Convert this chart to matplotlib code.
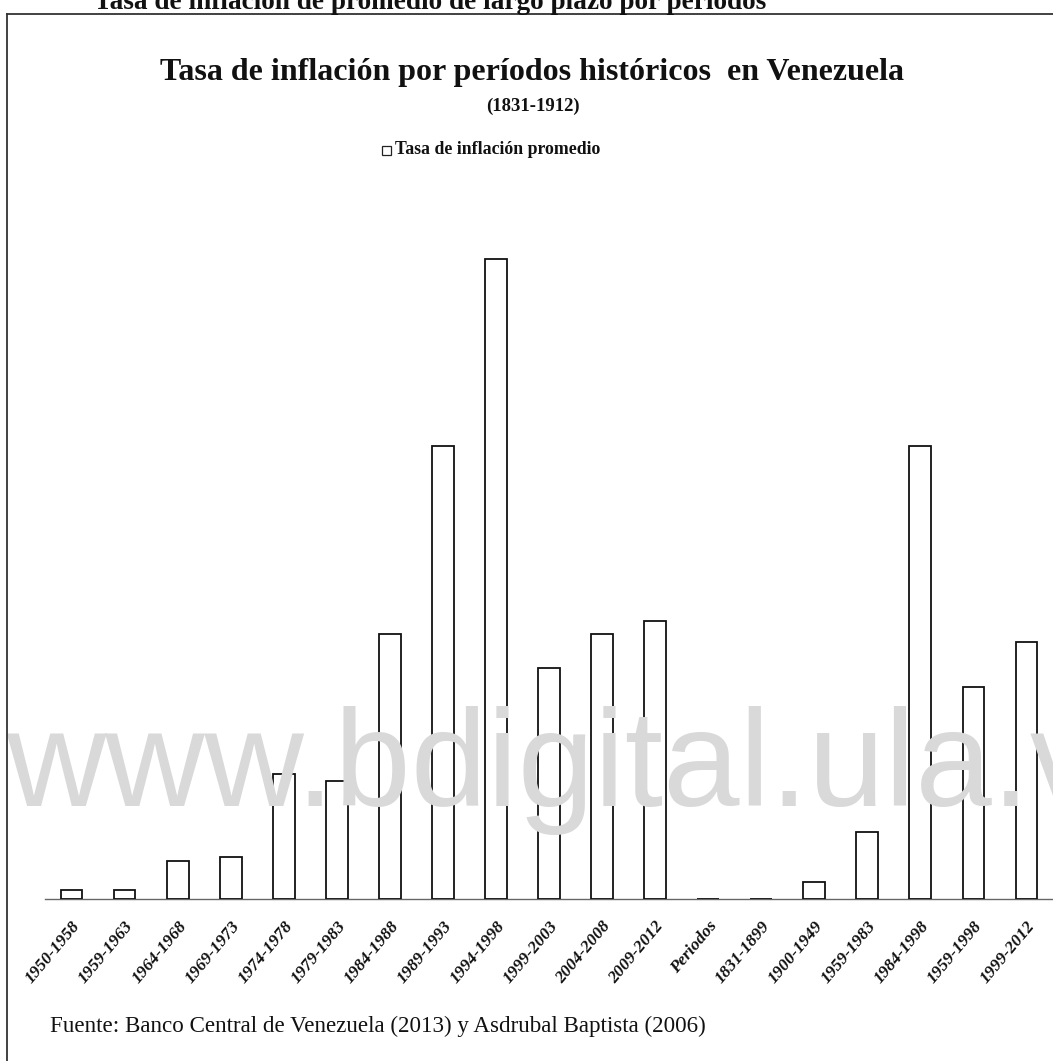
import matplotlib
matplotlib.use("Agg")
import matplotlib.pyplot as plt
from matplotlib.lines import Line2D
import numpy as np

# Periods and average inflation rate (%) for each period
periodos = [
    "1950-1958", "1959-1963", "1964-1968", "1969-1973", "1974-1978",
    "1979-1983", "1984-1988", "1989-1993", "1994-1998", "1999-2003",
    "2004-2008", "2009-2012", "Periodos", "1831-1899", "1900-1949",
    "1959-1983", "1984-1998", "1959-1998", "1999-2012",
]
inflacion = [
    0.9, 0.9, 3.8, 4.2, 12.5,
    11.8, 26.5, 45.3, 64.0, 23.1,
    26.5, 27.8, 0.0, 0.0, 1.7,
    6.7, 45.3, 21.2, 25.7,
]

titulo_superior = "Tasa de inflación de promedio de largo plazo por periodos"
titulo = "Tasa de inflación por períodos históricos  en Venezuela"
subtitulo = "(1831-1912)"
leyenda = "Tasa de inflación promedio"
fuente = "Fuente: Banco Central de Venezuela (2013) y Asdrubal Baptista (2006)"
marca = "www.bdigital.ula.ve"

W, H = 1053, 1061
fig = plt.figure(figsize=(W / 100, H / 100), dpi=100)
fig.patch.set_facecolor("white")


def fx(px):
    return px / W


def fy(py):
    return 1 - py / H


serif = ["Liberation Serif", "DejaVu Serif"]

# Outer frame (top and left edges)
fig.add_artist(Line2D([fx(7), fx(W)], [fy(14), fy(14)], color="#333333", lw=1.3))
fig.add_artist(Line2D([fx(7), fx(7)], [fy(14), fy(H)], color="#333333", lw=1.3))

# Page heading above the frame, partially cut off
fig.text(fx(430), fy(9), titulo_superior, ha="center", va="baseline",
         fontsize=19.6, fontweight="bold", family=serif, color="#111111")

# Watermark behind the bars
fig.text(fx(6), fy(806), marca, ha="left", va="baseline", fontsize=99,
         family=["Liberation Sans", "DejaVu Sans"], color="#d9d9d9", zorder=0)

# Chart titles
fig.text(fx(532), fy(80), titulo, ha="center", va="baseline",
         fontsize=23, fontweight="bold", family=serif, color="#111111")
fig.text(fx(533), fy(111), subtitulo, ha="center", va="baseline",
         fontsize=13.5, fontweight="bold", family=serif, color="#111111")

# Legend entry
fig.add_artist(plt.Rectangle((fx(382), fy(155)), fx(9), 9 / H, transform=fig.transFigure,
                             facecolor="none", edgecolor="#222222", lw=0.9))
fig.text(fx(395), fy(150), leyenda, ha="left", va="center",
         fontsize=12.8, fontweight="bold", family=serif, color="#111111")

# Source note
fig.text(fx(50), fy(1032), fuente, ha="left", va="baseline",
         fontsize=16.6, family=serif, color="#111111")

# Bar chart area
ax = fig.add_axes([fx(45), fy(899), fx(W) - fx(45), fy(220) - fy(899)])
ax.patch.set_alpha(0)
x = np.arange(len(periodos))
ax.bar(x, inflacion, width=0.41, facecolor="none", edgecolor="#111111", lw=1.3, zorder=3)
ax.set_xlim(-0.5, len(periodos) - 0.5)
ax.set_ylim(0, 67.9)
ax.set_yticks([])
for s in ["top", "right", "left"]:
    ax.spines[s].set_visible(False)
ax.spines["bottom"].set_color("#666666")
ax.spines["bottom"].set_linewidth(1.0)
ax.set_xticks(x)
ax.set_xticklabels(periodos, rotation=50, ha="right", va="top", rotation_mode="anchor",
                   fontsize=12.5, fontstyle="italic", fontweight="bold", family=serif,
                   color="#111111")
ax.tick_params(axis="x", length=0, pad=14)

fig.savefig("out.png", dpi=100, facecolor="white")
